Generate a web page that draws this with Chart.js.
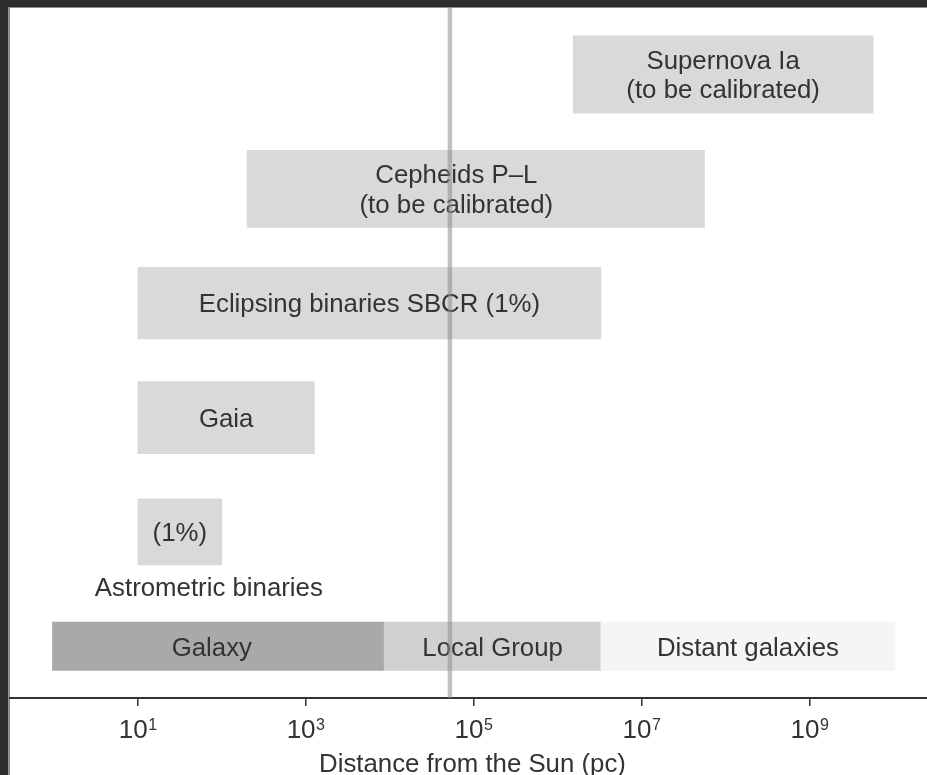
<!DOCTYPE html>
<html><head><meta charset="utf-8">
<script src="https://cdn.jsdelivr.net/npm/chart.js@4/dist/chart.umd.min.js"></script>
<style>html,body{margin:0;padding:0;background:#2d2d2d;overflow:hidden;} canvas{display:block;}</style>
</head><body>
<canvas id="c" width="927" height="775"></canvas>
<script>
// ---- data (distances in pc) ----
const methods = ['Supernova Ia', 'Cepheids P–L', 'Eclipsing binaries SBCR', 'Gaia', 'Astrometric binaries'];
const methodLow = [1.53e6, 200, 10, 10, 10];
const methodHigh = [5.7e9, 5.6e7, 3.27e6, 1265, 100];
const methodText = [['Supernova Ia', '(to be calibrated)'], ['Cepheids P–L', '(to be calibrated)'], ['Eclipsing binaries SBCR (1%)'], ['Gaia'], ['(1%)']];
const methodTextAt = [null, 6.2e4, null, null, null];
const captionText = 'Astrometric binaries';
const captionAt = 70;
const regions = ['Galaxy', 'Local Group', 'Distant galaxies'];
const regionLow = [0.96, 8580, 3.27e6];
const regionHigh = [8580, 3.27e6, 1.04e10];
const regionTextAt = [76, null, null];
const lmcDistance = 5.2e4;
const tickValues = [1e1, 1e3, 1e5, 1e7, 1e9];
const axisTitle = 'Distance from the Sun (pc)';

// ---- styles / layout ----
const FONT = '"Liberation Sans", Arial, Helvetica, sans-serif';
const TEXT = '#333333';
const LABEL_SIZE = 25.8;
const barColor = '#d9d9d9';
const barThick = [77.4, 77, 71.7, 72, 66];
const bandThick = 48.4;
const regionColors = ['#a9a9a9', '#d0d0d0', '#f4f5f7'];
const yMin = -0.581, yMax = 5.452;
const xMin = 0.3214, xMax = 2.5e10;

const datasets = [];
methods.forEach((m, i) => {
  datasets.push({
    type: 'bar', label: m,
    data: [{x: [methodLow[i], methodHigh[i]], y: i}],
    backgroundColor: barColor, borderWidth: 0,
    barThickness: barThick[i], grouped: false, order: 2
  });
});
datasets.push({
  type: 'bar', label: 'regions',
  data: regions.map((r, j) => ({x: [regionLow[j], regionHigh[j]], y: methods.length})),
  backgroundColor: regionColors, borderWidth: 0,
  barThickness: bandThick, grouped: false, order: 2
});
const lmcIndex = datasets.length;
datasets.push({
  type: 'line', label: 'LMC',
  data: [{x: lmcDistance, y: yMin}, {x: lmcDistance, y: yMax}],
  borderColor: 'rgba(140,140,140,0.55)', borderWidth: 4.5,
  pointRadius: 0, fill: false, order: 0
});

function txt(ctx, s, x, capY, size, align) {
  ctx.font = size + 'px ' + FONT;
  ctx.fillStyle = TEXT;
  ctx.textAlign = align || 'center';
  ctx.textBaseline = 'alphabetic';
  ctx.fillText(s, x, capY + 0.716 * size / 2);
}

const framePlugin = {
  id: 'frame',
  beforeDraw(chart) {
    const ctx = chart.ctx;
    ctx.save();
    ctx.fillStyle = '#ffffff';
    ctx.fillRect(0, 0, chart.width, chart.height);
    ctx.fillStyle = '#2d2d2d';
    ctx.fillRect(0, 0, 8.5, chart.height);
    ctx.fillRect(0, 0, chart.width, 7);
    ctx.fillStyle = '#8c8c8c';
    ctx.fillRect(8.5, 7, 1.5, chart.height - 7);
    ctx.fillRect(8.5, 7, chart.width - 8.5, 1);
    ctx.restore();
  },
  beforeDatasetDraw(chart, args) {
    if (args.index !== lmcIndex) return;
    const ctx = chart.ctx;
    const xs = chart.scales.x;
    ctx.save();
    methods.forEach((m, i) => {
      const el = chart.getDatasetMeta(i).data[0];
      const cx = methodTextAt[i] ? xs.getPixelForValue(methodTextAt[i]) : (el.x + el.base) / 2;
      const lines = methodText[i];
      if (lines.length === 2) {
        txt(ctx, lines[0], cx, el.y - 15, LABEL_SIZE);
        txt(ctx, lines[1], cx, el.y + 14.5, LABEL_SIZE);
      } else {
        txt(ctx, lines[0], cx, el.y, LABEL_SIZE);
      }
      if (i === methods.length - 1) {
        txt(ctx, captionText, xs.getPixelForValue(captionAt), el.y + barThick[i] / 2 + 21.5, LABEL_SIZE);
      }
    });
    const band = chart.getDatasetMeta(methods.length).data;
    regions.forEach((r, j) => {
      const el = band[j];
      const cx = regionTextAt[j] ? xs.getPixelForValue(regionTextAt[j]) : (el.x + el.base) / 2;
      txt(ctx, r, cx, el.y, LABEL_SIZE);
    });
    ctx.restore();
  },
  afterDraw(chart) {
    const ctx = chart.ctx;
    const xs = chart.scales.x;
    const a = chart.chartArea;
    ctx.save();
    ctx.fillStyle = TEXT;
    ctx.textBaseline = 'alphabetic';
    ctx.textAlign = 'left';
    tickValues.forEach(v => {
      const px = xs.getPixelForValue(v);
      const e = String(Math.round(Math.log10(v)));
      ctx.font = '26px ' + FONT;
      const wb = ctx.measureText('10').width;
      ctx.font = '16px ' + FONT;
      const we = ctx.measureText(e).width;
      const total = wb + 0.5 + we;
      const x0 = px - total / 2;
      ctx.font = '26px ' + FONT;
      ctx.fillText('10', x0, a.bottom + 40);
      ctx.font = '16px ' + FONT;
      ctx.fillText(e, x0 + wb + 0.5, a.bottom + 32);
    });
    ctx.font = LABEL_SIZE + 'px ' + FONT;
    ctx.textAlign = 'center';
    ctx.fillText(axisTitle, (a.left + a.right) / 2 + 4, a.bottom + 73.5);
    ctx.restore();
  }
};

new Chart(document.getElementById('c'), {
  type: 'bar',
  data: {datasets},
  options: {
    responsive: false, animation: false, indexAxis: 'y',
    layout: {padding: {left: 10, top: 8, right: 0, bottom: 0}},
    plugins: {legend: {display: false}, tooltip: {enabled: false}},
    scales: {
      x: {
        type: 'logarithmic', position: 'bottom', min: xMin, max: xMax, offset: false,
        afterBuildTicks: s => { s.ticks = tickValues.map(v => ({value: v})); },
        afterFit: s => { s.height = 77; },
        grid: {drawOnChartArea: false, drawTicks: true, tickLength: 8, color: TEXT, tickColor: TEXT, tickWidth: 1.5, lineWidth: 1.5, offset: false},
        border: {display: true, color: TEXT, width: 2},
        ticks: {display: false}
      },
      y: {type: 'linear', display: false, reverse: true, min: yMin, max: yMax, offset: false, grid: {offset: false}}
    }
  },
  plugins: [framePlugin]
});
</script>
</body></html>
